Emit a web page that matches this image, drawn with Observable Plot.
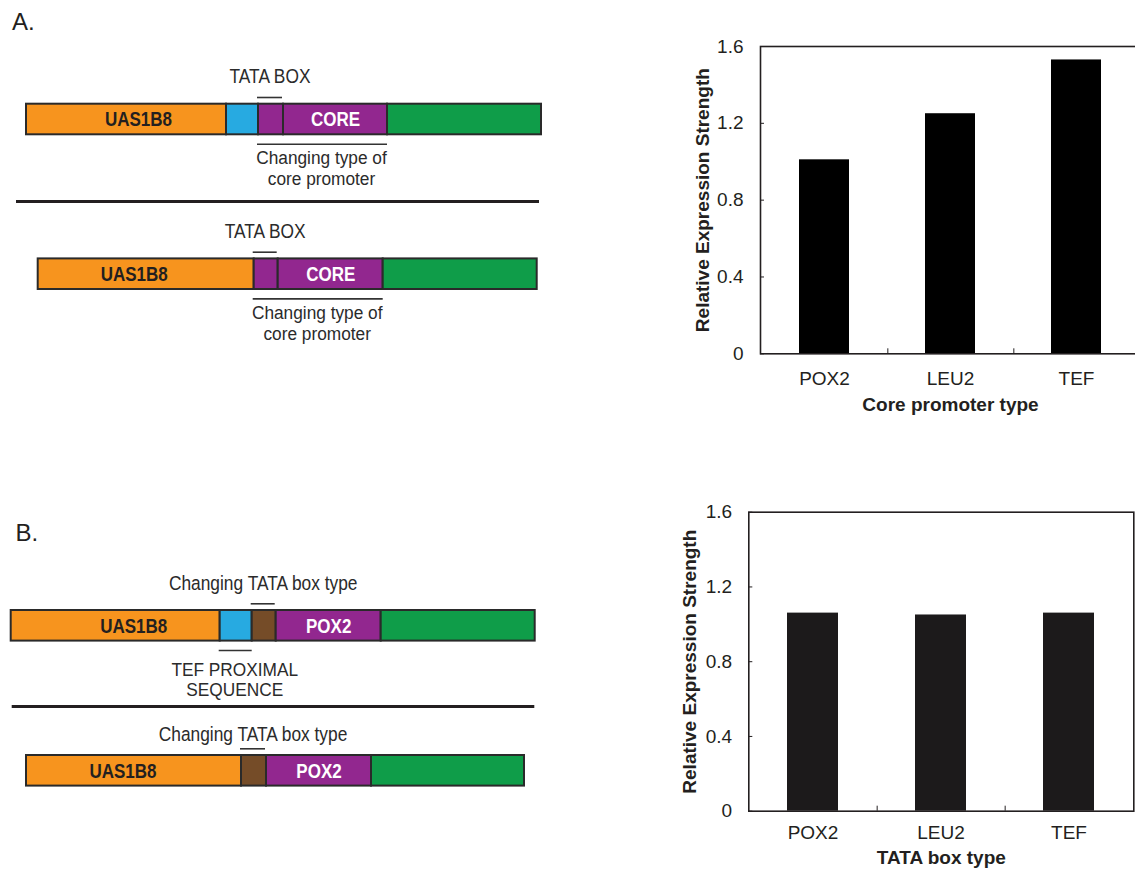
<!DOCTYPE html>
<html>
<head>
<meta charset="utf-8">
<script src="https://cdn.jsdelivr.net/npm/d3@7"></script>
<script src="https://cdn.jsdelivr.net/npm/@observablehq/plot@0.6"></script>
<style>
  html, body { margin: 0; padding: 0; background: #fff; }
  #fig { position: relative; width: 1135px; height: 869px; overflow: hidden; background: #fff; }
  #fig > div { position: absolute; }
  g[aria-label="x-axis label"] text, g[aria-label="y-axis label"] text { font-weight: bold; }
</style>
</head>
<body>
<div id="fig"></div>
<script>
// ---------------- data ----------------
const coreTypes = ["POX2", "LEU2", "TEF"];
const coreStrength = [1.01, 1.25, 1.53];
const tataTypes = ["POX2", "LEU2", "TEF"];
const tataStrength = [1.06, 1.05, 1.06];
const yTicks = [0, 0.4, 0.8, 1.2, 1.6];
const yLabel = "Relative Expression Strength";
const xLabelCore = "Core promoter type";
const xLabelTata = "TATA box type";

const panelLetters = ["A.", "B."];

// construct schematics: segment kinds, relative lengths, inner labels
const kindsA1 = ["uas", "prox", "tata", "core", "gene"];
const lensA1 = [200, 32, 25, 104, 154];
const labelsA1 = ["UAS1B8", "", "", "CORE", ""];

const kindsA2 = ["uas", "tata", "core", "gene"];
const lensA2 = [216, 24, 105, 154];
const labelsA2 = ["UAS1B8", "", "CORE", ""];

const kindsB1 = ["uas", "prox", "tataB", "core", "gene"];
const lensB1 = [209, 32, 24, 105, 154];
const labelsB1 = ["UAS1B8", "", "", "POX2", ""];

const kindsB2 = ["uas", "tataB", "core", "gene"];
const lensB2 = [215, 25, 105, 153];
const labelsB2 = ["UAS1B8", "", "POX2", ""];

const topNotes = ["TATA BOX", "TATA BOX", "Changing TATA box type", "Changing TATA box type"];
const overSpans = [[2, 2], [1, 1], [2, 2], [1, 1]];
const underSpans = [[2, 3], [1, 2], [1, 1], null];
const bottomNotes = ["Changing type of\ncore promoter", "Changing type of\ncore promoter", "TEF PROXIMAL\nSEQUENCE", ""];

// ---------------- styles / layout ----------------
const kindColor = {uas: "#F7941E", prox: "#27AAE1", tata: "#92278F", core: "#92278F", tataB: "#754C28", gene: "#0F9D49"};
const ink = "#231F20";
const font = "'Liberation Sans', Arial, Helvetica, sans-serif";

const rowStart = [26, 37.7, 10.7, 26];
const rowCenter = [119, 273.7, 625.3, 770.3];
const barHalf = 15.3;
const topNoteDy = [-37, -36, -36, -30.3];
const bottomNoteDy = [44.6, 44.9, 49.7, 0];
const noteFont = 19.5, bottomFont = 18, noteLineGap = 20.5;
const uasShift = [12, -12, 18, -11];
const sepY = [201, 706], sepX1 = [16, 11.7], sepX2 = [539, 534.3];
const letterX = [11.5, 15], letterY = [29, 540];

const fig = document.getElementById("fig");
function place(node, left, top, w, h) {
  const d = document.createElement("div");
  d.style.cssText = `left:${left}px;top:${top}px;width:${w}px;height:${h}px;`;
  d.appendChild(node);
  fig.appendChild(d);
}
// horizontally condense the glyphs of a text mark's group (the reference uses a condensed face)
function squeeze(group, sx) {
  if (!group) return;
  group.querySelectorAll("text").forEach((el) => {
    const t = el.getAttribute("transform") || "";
    el.setAttribute("transform", `${t} scale(${sx},1)`);
  });
}

// ---------------- schematic ----------------
const rowsKinds = [kindsA1, kindsA2, kindsB1, kindsB2];
const rowsLens = [lensA1, lensA2, lensB1, lensB2];
const rowsLabels = [labelsA1, labelsA2, labelsB1, labelsB2];

const segs = [], overs = [], unders = [], tops = [], bottoms = [], seps = [], letters = [];
rowsKinds.forEach((kinds, r) => {
  let x = rowStart[r];
  const cy = rowCenter[r];
  const row = kinds.map((k, i) => {
    const s = {x1: x, x2: x + rowsLens[r][i], y1: cy - barHalf, y2: cy + barHalf, fill: kindColor[k],
      label: rowsLabels[r][i], cy, tc: k === "uas" ? ink : "#ffffff"};
    s.lx = (s.x1 + s.x2) / 2 + (k === "uas" ? uasShift[r] : 0);
    x = s.x2;
    return s;
  });
  segs.push(...row);
  const o = overSpans[r];
  overs.push({x1: row[o[0]].x1 - 1, x2: row[o[1]].x2 - 1, y: cy - 22});
  tops.push({x: (row[o[0]].x1 + row[o[1]].x2) / 2 - 1, y: cy + topNoteDy[r], text: topNotes[r]});
  const u = underSpans[r];
  if (u) {
    unders.push({x1: row[u[0]].x1 - 1, x2: row[u[1]].x2, y: cy + 24.7});
    const nLines = bottomNotes[r].split("\n").length;
    bottoms.push({x: (row[u[0]].x1 + row[u[1]].x2) / 2 - 1.5,
      y: cy + bottomNoteDy[r] + (nLines - 1) * noteLineGap, text: bottomNotes[r]});
  }
});
panelLetters.forEach((t, i) => {
  letters.push({x: letterX[i], y: letterY[i], text: t});
  seps.push({x1: sepX1[i], x2: sepX2[i], y: sepY[i]});
});

const diagram = Plot.plot({
  width: 560, height: 869, margin: 0,
  style: {fontFamily: font, background: "transparent", overflow: "visible"},
  x: {domain: [0, 560], range: [0, 560], axis: null},
  y: {domain: [0, 869], range: [0, 869], axis: null},
  color: {type: "identity"},
  marks: [
    Plot.rect(segs, {x1: "x1", x2: "x2", y1: "y1", y2: "y2", fill: "fill", stroke: "#2a2a2a", strokeWidth: 2}),
    Plot.text(segs.filter(d => d.label), {x: "lx", y: "cy", text: "label", fill: "tc", fontWeight: "bold", fontSize: 21}),
    Plot.ruleY(seps, {x1: "x1", x2: "x2", y: "y", stroke: ink, strokeWidth: 3}),
    Plot.ruleY(overs, {x1: "x1", x2: "x2", y: "y", stroke: "#333", strokeWidth: 1.6}),
    Plot.ruleY(unders, {x1: "x1", x2: "x2", y: "y", stroke: "#333", strokeWidth: 1.6}),
    Plot.text(tops, {x: "x", y: "y", text: "text", lineAnchor: "bottom", fontSize: noteFont, fill: "#2b2b2b"}),
    Plot.text(bottoms, {x: "x", y: "y", text: "text", lineAnchor: "bottom", lineHeight: noteLineGap / bottomFont, fontSize: bottomFont, fill: "#2b2b2b"}),
    Plot.text(letters, {x: "x", y: "y", text: "text", textAnchor: "start", lineAnchor: "bottom", fontSize: 24, fill: ink})
  ]
});
const markGroups = diagram.querySelectorAll(":scope > g");
squeeze(markGroups[1], 0.81);
squeeze(markGroups[5], 0.89);
squeeze(markGroups[6], 0.96);
place(diagram, 0, 0, 560, 869);

// ---------------- bar charts ----------------
function barChart({types, values, xLabel, width, height, ml, mt, mb, mr, fill, tickPadX, labelOffX, tickPadY, labelOffY}) {
  const data = types.map((t, i) => ({type: t, value: values[i]}));
  const frameW = width - ml - mr;
  const step = frameW / (types.length - 0.6 + 2 * 0.3);
  return Plot.plot({
    width, height, marginLeft: ml, marginTop: mt, marginBottom: mb, marginRight: mr,
    style: {fontFamily: font, fontSize: "19px", color: ink, background: "transparent", overflow: "visible"},
    x: {type: "band", domain: types, paddingInner: 0.6, paddingOuter: 0.3},
    y: {domain: [0, 1.6]},
    marks: [
      Plot.barY(data, {x: "type", y: "value", fill}),
      Plot.frame({stroke: ink, strokeWidth: 1.6}),
      Plot.axisY(yTicks, {tickSize: 0, tickPadding: tickPadY, tickFormat: d => d === 0 ? "0" : d.toFixed(1),
        label: yLabel, labelAnchor: "center", labelOffset: labelOffY, labelArrow: false}),
      Plot.axisY(yTicks, {tickSize: -4, tickFormat: () => "", label: null, stroke: ink}),
      Plot.axisX(types, {tickSize: 0, tickPadding: tickPadX, label: xLabel, labelAnchor: "center", labelOffset: labelOffX, labelArrow: false}),
      Plot.axisX(types.slice(0, -1), {tickSize: -5, dx: step / 2, tickFormat: () => "", label: null, stroke: ink})
    ]
  });
}

place(barChart({types: coreTypes, values: coreStrength, xLabel: xLabelCore, width: 460, height: 440,
  ml: 80, mt: 46, mb: 86.7, mr: 0, fill: "#000000", tickPadX: 18, labelOffX: 57, tickPadY: 17, labelOffY: 65}), 680, 0, 460, 440);

place(barChart({types: tataTypes, values: tataStrength, xLabel: xLabelTata, width: 465, height: 389,
  ml: 78.3, mt: 31.7, mb: 58.3, mr: 1.7, fill: "#1c1a1b", tickPadX: 14, labelOffX: 53, tickPadY: 16.6, labelOffY: 66}), 670, 480, 465, 389);
</script>
</body>
</html>
